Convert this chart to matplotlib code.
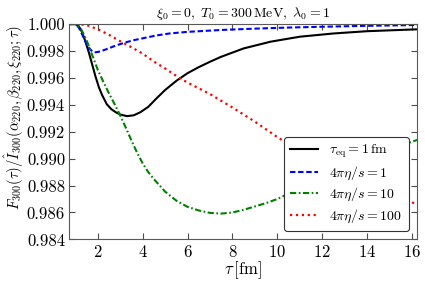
import matplotlib
matplotlib.use("Agg")
import matplotlib.pyplot as plt
from matplotlib.ticker import FormatStrFormatter, MultipleLocator

plt.rcParams["mathtext.fontset"] = "cm"
plt.rcParams["font.family"] = "serif"
plt.rcParams["font.serif"] = ["cmr10"]
plt.rcParams["axes.formatter.use_mathtext"] = True

# tau_eq = 1 fm
tau_eq = [0.75, 1.0, 1.15, 1.3, 1.45, 1.6, 1.75, 1.9, 2.05, 2.2, 2.4, 2.6, 2.8, 3.0,
          3.3, 3.6, 3.9, 4.25, 4.6, 5.0, 5.5, 6.0, 6.5, 7.0, 7.5, 8.5, 9.7, 11.0,
          12.5, 14.0, 16.25]
f_eq = [1.0, 1.0, 0.99985, 0.9994, 0.9987, 0.9979, 0.9970, 0.9961, 0.9953, 0.9947,
        0.99405, 0.99368, 0.99345, 0.99328, 0.99316, 0.99322, 0.99345, 0.99385,
        0.99445, 0.99510, 0.99578, 0.99635, 0.99680, 0.99720, 0.99757, 0.99819,
        0.99869, 0.99906, 0.99930, 0.99947, 0.99961]

# 4 pi eta/s = 1
tau_1 = [0.75, 1.0, 1.15, 1.3, 1.45, 1.6, 1.75, 1.9, 2.1, 2.4, 2.8, 3.2, 3.6, 4.0,
         4.6, 5.2, 6.0, 7.5, 9.0, 10.5, 12.0, 14.0, 16.25]
f_1 = [1.0, 1.0, 0.99975, 0.99925, 0.99870, 0.99825, 0.99797, 0.99790, 0.99796,
       0.99814, 0.99840, 0.99862, 0.99880, 0.99894, 0.99915, 0.99930, 0.99942,
       0.99956, 0.99966, 0.99974, 0.99980, 0.99987, 0.99993]

# 4 pi eta/s = 10
tau_10 = [0.75, 1.0, 1.25, 1.5, 1.75, 2.0, 2.25, 2.5, 2.75, 3.0, 3.25, 3.5, 3.75,
          4.0, 4.25, 4.5, 5.0, 5.5, 6.0, 6.5, 7.0, 7.5, 8.0, 8.5, 9.0, 9.5, 10.0,
          11.0, 12.0, 13.0, 14.0, 15.0, 16.25]
f_10 = [1.0, 1.0, 0.99965, 0.99880, 0.99770, 0.99660, 0.99570, 0.99485, 0.99405,
        0.99320, 0.99230, 0.99135, 0.99045, 0.98965, 0.98900, 0.98848, 0.98755,
        0.98688, 0.98642, 0.98615, 0.98597, 0.98592, 0.98600, 0.98620, 0.98645,
        0.98670, 0.98700, 0.98780, 0.98860, 0.98930, 0.99000, 0.99070, 0.99140]

# 4 pi eta/s = 100
tau_100 = [0.75, 1.0, 1.5, 2.0, 2.5, 3.0, 3.5, 4.0, 4.5, 5.0, 5.5, 6.0, 7.0, 8.0,
           9.0, 10.0, 11.0, 12.0, 13.0, 14.0, 15.0, 16.25]
f_100 = [1.0, 1.0, 0.99993, 0.99962, 0.99920, 0.99872, 0.99828, 0.99780, 0.99722,
         0.99670, 0.99615, 0.99565, 0.99480, 0.99380, 0.99275, 0.99160, 0.99055,
         0.98960, 0.98880, 0.98805, 0.98735, 0.98660]

labels = [r"$\tau_{\rm eq}=1\,{\rm fm}$", r"$4\pi\eta/s=1$",
          r"$4\pi\eta/s=10$", r"$4\pi\eta/s=100$"]

fig = plt.figure(figsize=(4.25, 2.83), dpi=100)
ax = fig.add_axes([0.163, 0.154, 0.818, 0.761])

ax.plot(tau_eq, f_eq, color="k", lw=1.5, label=labels[0])
ax.plot(tau_1, f_1, color="b", lw=1.5, dashes=(2.6, 1.3), label=labels[1])
ax.plot(tau_10, f_10, color="g", lw=1.5, dashes=(3.0, 1.2, 0.8, 1.2), label=labels[2])
ax.plot(tau_100, f_100, color="r", lw=1.6, linestyle=":", label=labels[3])

ax.set_xlim(0.73, 16.22)
ax.set_ylim(0.984, 1.0)
ax.xaxis.set_major_locator(MultipleLocator(2))
ax.yaxis.set_major_locator(MultipleLocator(0.002))
ax.yaxis.set_major_formatter(FormatStrFormatter("%.3f"))
ax.tick_params(direction="in", top=True, right=True, length=4, labelsize=12,
               color="0.3", pad=3)
for sp in ax.spines.values():
    sp.set_color("0.35")

ax.set_xlabel(r"$\tau\,[{\rm fm}]$", fontsize=12, labelpad=0)
ax.set_ylabel(r"$F_{300}(\tau)/\hat{I}_{300}(\alpha_{220},\beta_{220},\xi_{220};\tau)$",
              fontsize=10.5)
ax.yaxis.set_label_coords(-0.125, 0.566)
ax.set_title(r"$\xi_0=0,\ T_0=300\,{\rm MeV},\ \lambda_0=1$", fontsize=10, pad=5)

leg = ax.legend(loc="lower right", fontsize=10, fancybox=True, framealpha=1,
                edgecolor="0.2", handlelength=2.0, handletextpad=0.8,
                labelspacing=0.3, borderaxespad=0.6, borderpad=0.45)
leg.get_frame().set_linewidth(0.8)

fig.savefig("out.png", dpi=100)
